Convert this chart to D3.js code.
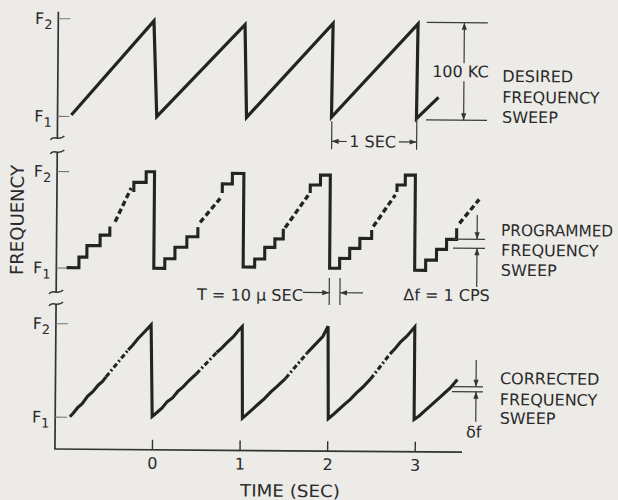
<!DOCTYPE html>
<html><head><meta charset="utf-8">
<script src="https://cdn.jsdelivr.net/npm/d3@7"></script>
<style>
html,body{margin:0;padding:0;background:#ecebe8;}
svg{display:block;}
</style></head><body>
<svg id="chart" width="618" height="500"></svg>
<script>
// ---------- data (time in sec, level 0 = F1, 1 = F2) ----------
const timeTicks = [0, 1, 2, 3];
const timeTickLabels = ["0", "1", "2", "3"];
const levelValues = [0, 1];
const levelSubscripts = ["1", "2"];

const desiredSweep = [[-0.95,0.01],[-0.015,0.98],[0.025,0],[1.025,0.95],[1.05,0],[2.03,0.97],[2.02,0.01],[3.0,0.97],[2.99,0],[3.24,0.22]];

const programmedSolid = [
  [[-0.99,0],[-0.85,0],[-0.85,0.11],[-0.76,0.11],[-0.76,0.23],[-0.61,0.23],[-0.61,0.34],[-0.5,0.34],[-0.5,0.43]],
  [[-0.23,0.79],[-0.23,0.89],[-0.09,0.89],[-0.09,1.0],[0.005,1.0],[0.005,0],[0.13,0],[0.13,0.1],[0.245,0.1],[0.245,0.22],[0.38,0.22],[0.38,0.33],[0.505,0.33],[0.505,0.43]],
  [[0.78,0.785],[0.78,0.88],[0.894,0.88],[0.894,0.99],[1.025,0.99],[1.025,0.02],[1.156,0.02],[1.156,0.105],[1.27,0.105],[1.27,0.227],[1.385,0.227],[1.385,0.314],[1.48,0.314],[1.48,0.42]],
  [[1.784,0.793],[1.784,0.876],[1.9,0.876],[1.9,0.98],[2.012,0.98],[2.012,0.015],[2.126,0.015],[2.126,0.118],[2.24,0.118],[2.24,0.223],[2.355,0.223],[2.355,0.327],[2.489,0.327],[2.489,0.415]],
  [[2.774,0.81],[2.774,0.883],[2.868,0.883],[2.868,0.987],[2.983,0.987],[2.983,0],[3.108,0],[3.108,0.108],[3.231,0.108],[3.231,0.22],[3.345,0.22],[3.345,0.324],[3.459,0.324],[3.459,0.44]]
];
const programmedDashed = [
  [[-0.44,0.48],[-0.26,0.83]],
  [[0.53,0.48],[0.757,0.73]],
  [[1.5,0.43],[1.761,0.77]],
  [[2.507,0.45],[2.755,0.78]],
  [[3.49,0.49],[3.713,0.74]]
];

const correctedSolid = [
  [[-0.94,0.0],[-0.9,0.04],[-0.85,0.1],[-0.8,0.14],[-0.74,0.22],[-0.68,0.27],[-0.62,0.34],[-0.57,0.38],[-0.53,0.43]],
  [[-0.28,0.72],[-0.23,0.77],[-0.17,0.84],[-0.11,0.9],[-0.06,0.95],[-0.02,0.99],[0.0,0.01],[0.05,0.05],[0.11,0.1],[0.17,0.17],[0.23,0.21],[0.29,0.28],[0.35,0.33],[0.42,0.4],[0.5,0.47]],
  [[0.73,0.7],[0.79,0.75],[0.85,0.81],[0.92,0.87],[0.97,0.93],[1.02,0.98],[1.03,0.0],[1.08,0.04],[1.15,0.1],[1.22,0.16],[1.28,0.21],[1.35,0.28],[1.42,0.34],[1.52,0.43]],
  [[1.76,0.7],[1.82,0.76],[1.88,0.82],[1.94,0.88],[2.0,0.99],[2.01,0.0],[2.06,0.04],[2.13,0.1],[2.2,0.16],[2.26,0.21],[2.33,0.28],[2.4,0.34],[2.49,0.43]],
  [[2.71,0.7],[2.77,0.76],[2.83,0.83],[2.9,0.89],[2.99,0.99],[2.99,0.0],[3.05,0.04],[3.12,0.1],[3.19,0.16],[3.26,0.22],[3.33,0.28],[3.4,0.34],[3.48,0.43]]
];
const correctedDashed = [
  [[-0.53,0.43],[-0.28,0.72]],
  [[0.5,0.47],[0.73,0.7]],
  [[1.52,0.43],[1.76,0.7]],
  [[2.49,0.43],[2.71,0.7]]
];

const panelLabels = [
  ["DESIRED", "FREQUENCY", "SWEEP"],
  ["PROGRAMMED", "FREQUENCY", "SWEEP"],
  ["CORRECTED", "FREQUENCY", "SWEEP"]
];
const yTitle = "FREQUENCY";
const xTitle = "TIME (SEC)";
const spanLabel = "100 KC";
const periodLabel = "1 SEC";
const stepTimeLabel = "T = 10 \u03BC SEC";
const stepFreqLabel = "\u0394f = 1 CPS";
const errorLabel = "\u03B4f";

// ---------- layout ----------
const W = 618, H = 500;
const ink = "#232323", textInk = "#2a2a2a";
const font = "'DejaVu Sans', sans-serif";
const axisX = 56.5, axisY = 451, axisRight = 463.6;

const x = d3.scaleLinear().domain([0, 3]).range([153.5, 416.3]);
const yTop = d3.scaleLinear().domain([0, 1]).range([117.9, 20.2]);
const yMid = d3.scaleLinear().domain([0, 1]).range([269.5, 173]);
const yBot = d3.scaleLinear().domain([0, 1]).range([418.6, 325.2]);

const svg = d3.select("#chart");
svg.append("rect").attr("width", W).attr("height", H).attr("fill", "#ecebe8");
const g = svg.append("g").attr("transform", "rotate(0.45,309,250)");

function txt(sel, s, xx, yy, size, anchor) {
  return sel.append("text").attr("x", xx).attr("y", yy).text(s)
    .attr("font-family", font).attr("font-size", size).attr("fill", textInk)
    .attr("text-anchor", anchor || "start");
}
function arrowHead(x0, y0, dir) { // tip at x0,y0
  const L = 7, w = 2.6;
  let p;
  if (dir === "up") p = [[x0, y0], [x0 - w, y0 + L], [x0 + w, y0 + L]];
  if (dir === "down") p = [[x0, y0], [x0 - w, y0 - L], [x0 + w, y0 - L]];
  if (dir === "left") p = [[x0, y0], [x0 + L, y0 - w], [x0 + L, y0 + w]];
  if (dir === "right") p = [[x0, y0], [x0 - L, y0 - w], [x0 - L, y0 + w]];
  g.append("path").attr("d", "M" + p.map(q => q.join(",")).join("L") + "Z").attr("fill", "#333");
}
function seg(x1, y1, x2, y2, w, c) {
  g.append("line").attr("x1", x1).attr("y1", y1).attr("x2", x2).attr("y2", y2)
    .attr("stroke", c || "#3a3a3a").attr("stroke-width", w || 1.2);
}
function wiggle(yy) {
  g.append("path").attr("d", `M${axisX - 7},${yy + 2} C${axisX - 4},${yy - 4} ${axisX + 1},${yy + 4} ${axisX + 7},${yy - 2}`)
    .attr("fill", "none").attr("stroke", "#333").attr("stroke-width", 1.5);
}

// ---------- axes ----------
[[13.8, 140], [154, 294], [306, axisY]].forEach(s => seg(axisX, s[0], axisX, s[1], 1.7, "#333"));
[140, 154, 294, 306].forEach(wiggle);
seg(axisX - 0.8, axisY, axisRight, axisY, 1.7, "#333");

const panels = [
  { y: yTop, solid: [desiredSweep], dashed: [], labelY: [80.3, 101.3, 121.3] },
  { y: yMid, solid: programmedSolid, dashed: programmedDashed, labelY: [234.3, 254.3, 274.3] },
  { y: yBot, solid: correctedSolid, dashed: correctedDashed, labelY: [382.6, 403.6, 422.3] }
];

panels.forEach((p, pi) => {
  const ax = g.append("g").attr("transform", `translate(${axisX},0)`)
    .call(d3.axisRight(p.y).tickValues(levelValues).tickSize(12).tickFormat(""));
  ax.select(".domain").remove();
  ax.selectAll(".tick line").attr("stroke", "#777").attr("stroke-width", 1.1);
  levelValues.forEach((v, i) => {
    const t = g.append("text").attr("x", 33.3).attr("y", p.y(v) + 6)
      .attr("font-family", font).attr("fill", textInk).attr("font-size", 16);
    t.append("tspan").text("F");
    t.append("tspan").attr("font-size", 13).attr("dy", 5).text(levelSubscripts[i]);
  });
  const line = d3.line().x(d => x(d[0])).y(d => p.y(d[1]));
  p.solid.forEach(s => g.append("path").attr("d", line(s)).attr("fill", "none")
    .attr("stroke", ink).attr("stroke-width", pi === 0 ? 3.2 : 3.1).attr("stroke-linejoin", "miter"));
  p.dashed.forEach(s => g.append("path").attr("d", line(s)).attr("fill", "none")
    .attr("stroke", ink).attr("stroke-width", pi === 1 ? 3.4 : 3.1)
    .attr("stroke-dasharray", pi === 1 ? "5.5,3.2" : "5,2.5,2,2.5"));
  panelLabels[pi].forEach((s, i) => {
    const t = txt(g, s, 501, p.labelY[i], 16);
    if (s === "PROGRAMMED") t.attr("textLength", 112).attr("lengthAdjust", "spacingAndGlyphs");
  });
});

// x axis ticks
const xa = g.append("g").attr("transform", `translate(0,${axisY})`)
  .call(d3.axisBottom(x).tickValues(timeTicks).tickSize(-10).tickPadding(7.6)
    .tickFormat((d, i) => timeTickLabels[i]));
xa.select(".domain").remove();
xa.selectAll(".tick line").attr("stroke", "#333").attr("stroke-width", 1.4);
xa.selectAll(".tick text").attr("font-family", font).attr("font-size", 16).attr("fill", textInk);

// axis titles
txt(g, xTitle, 291.9, 497, 17, "middle").attr("textLength", 100).attr("lengthAdjust", "spacingAndGlyphs");
txt(g, yTitle, 0, 0, 18, "middle").attr("transform", "translate(23.3,222.3) rotate(-90)")
  .attr("textLength", 110).attr("lengthAdjust", "spacingAndGlyphs");

// ---------- annotations ----------
seg(425, 21.5, 486, 21.5); seg(425, 119, 486, 119);
seg(462.6, 21.5, 462.6, 62); arrowHead(462.6, 21.5, "up");
seg(462.6, 80, 462.6, 119); arrowHead(462.6, 119, "down");
txt(g, spanLabel, 459, 76, 16, "middle");

seg(330.8, 121, 330.8, 149); seg(415.8, 118, 415.8, 149);
seg(330.8, 141.2, 346, 141.2); arrowHead(330.8, 141.2, "left");
seg(398, 141.2, 415.8, 141.2); arrowHead(415.8, 141.2, "right");
txt(g, periodLabel, 371.8, 146.8, 16, "middle");

txt(g, stepTimeLabel, 250.3, 301, 16, "middle").attr("textLength", 106).attr("lengthAdjust", "spacingAndGlyphs");
seg(303.3, 292.5, 329.6, 292.5); arrowHead(329.6, 292.5, "right");
seg(329.6, 277.8, 329.6, 304.8); seg(340.3, 277.8, 340.3, 304.8);
seg(340.3, 292.5, 363.3, 292.5); arrowHead(340.3, 292.5, "left");

seg(453, 238, 485, 238); seg(453, 247, 485, 247);
seg(477, 213.7, 477, 238); arrowHead(477, 238, "down");
seg(477, 247, 477, 285.7); arrowHead(477, 247, "up");
txt(g, stepFreqLabel, 446.9, 299.6, 16, "middle");

seg(453, 385.5, 484, 385.5); seg(453, 390.5, 484, 390.5);
seg(477.1, 358.8, 477.1, 385.5); arrowHead(477.1, 385.5, "down");
seg(477.1, 390.5, 477.1, 420.5); arrowHead(477.1, 390.5, "up");
txt(g, errorLabel, 475.2, 436.3, 16, "middle");
</script>
</body></html>
